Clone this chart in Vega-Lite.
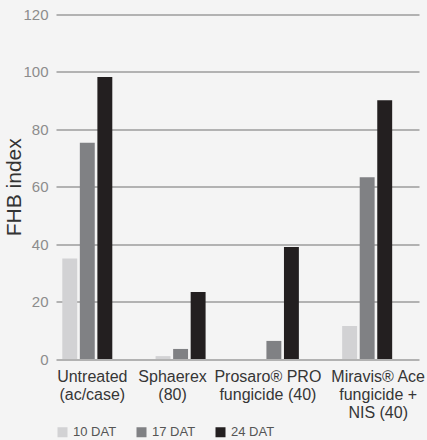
{
  "$schema": "https://vega.github.io/schema/vega-lite/v6.json",
  "autosize": {"type": "none"},
  "padding": {"left": 56, "top": 14.5, "right": 8, "bottom": 81},
  "width": 363,
  "height": 344.5,
  "background": "#f4f4f4",
  "data": {
    "values": [
      {"treatment": "Untreated|(ac/case)", "timing": "10 DAT", "fhb": 35},
      {"treatment": "Untreated|(ac/case)", "timing": "17 DAT", "fhb": 75.3},
      {"treatment": "Untreated|(ac/case)", "timing": "24 DAT", "fhb": 98.2},
      {"treatment": "Sphaerex|(80)", "timing": "10 DAT", "fhb": 1},
      {"treatment": "Sphaerex|(80)", "timing": "17 DAT", "fhb": 3.5},
      {"treatment": "Sphaerex|(80)", "timing": "24 DAT", "fhb": 23.3},
      {"treatment": "Prosaro® PRO|fungicide (40)", "timing": "10 DAT", "fhb": 0},
      {"treatment": "Prosaro® PRO|fungicide (40)", "timing": "17 DAT", "fhb": 6.3},
      {"treatment": "Prosaro® PRO|fungicide (40)", "timing": "24 DAT", "fhb": 39},
      {"treatment": "Miravis® Ace|fungicide +|NIS (40)", "timing": "10 DAT", "fhb": 11.5},
      {"treatment": "Miravis® Ace|fungicide +|NIS (40)", "timing": "17 DAT", "fhb": 63.3},
      {"treatment": "Miravis® Ace|fungicide +|NIS (40)", "timing": "24 DAT", "fhb": 90.1}
    ]
  },
  "mark": {"type": "bar"},
  "encoding": {
    "x": {
      "field": "treatment",
      "type": "nominal",
      "sort": null,
      "scale": {"paddingInner": 0.464, "paddingOuter": 0.1775, "align": 0.19},
      "axis": {
        "title": null,
        "labelAngle": 0,
        "labelExpr": "split(datum.label, '|')",
        "labelFont": "Liberation Sans",
        "labelFontSize": 16,
        "labelLineHeight": 18,
        "labelColor": "#363636",
        "labelPadding": 9,
        "labelOffset": {
          "condition": [
            {"test": "indexof(datum.value, 'Untreated') == 0", "value": 5},
            {"test": "indexof(datum.value, 'Sphaerex') == 0", "value": -8},
            {"test": "indexof(datum.value, 'Prosaro') == 0", "value": -6}
          ],
          "value": 11
        },
        "ticks": false,
        "domain": false,
        "grid": false
      }
    },
    "xOffset": {
      "field": "timing",
      "type": "nominal",
      "sort": ["10 DAT", "17 DAT", "24 DAT"],
      "scale": {"paddingInner": 0.15}
    },
    "y": {
      "field": "fhb",
      "type": "quantitative",
      "scale": {"domain": [0, 120], "nice": false},
      "axis": {
        "title": "FHB index",
        "titleFont": "Liberation Sans",
        "titleFontSize": 21,
        "titleFontWeight": "normal",
        "titleColor": "#333333",
        "titlePadding": -2,
        "values": [0, 20, 40, 60, 80, 100, 120],
        "labelFont": "Liberation Sans",
        "labelFontSize": 15,
        "labelColor": "#8c8c8c",
        "labelPadding": 8,
        "ticks": false,
        "domain": false,
        "grid": true,
        "gridColor": "#9c9c9c",
        "gridWidth": 1.6
      }
    },
    "color": {
      "field": "timing",
      "type": "nominal",
      "sort": ["10 DAT", "17 DAT", "24 DAT"],
      "scale": {"domain": ["10 DAT", "17 DAT", "24 DAT"], "range": ["#d2d2d4", "#808184", "#231f20"]},
      "legend": {
        "title": null,
        "orient": "bottom",
        "direction": "horizontal",
        "symbolType": "square",
        "symbolSize": 100,
        "symbolStrokeWidth": 0,
        "labelFont": "Liberation Sans",
        "labelFontSize": 13,
        "labelColor": "#555555",
        "labelOffset": 4,
        "columnPadding": 18,
        "offset": 5
      }
    }
  },
  "config": {"view": {"stroke": null}}
}
